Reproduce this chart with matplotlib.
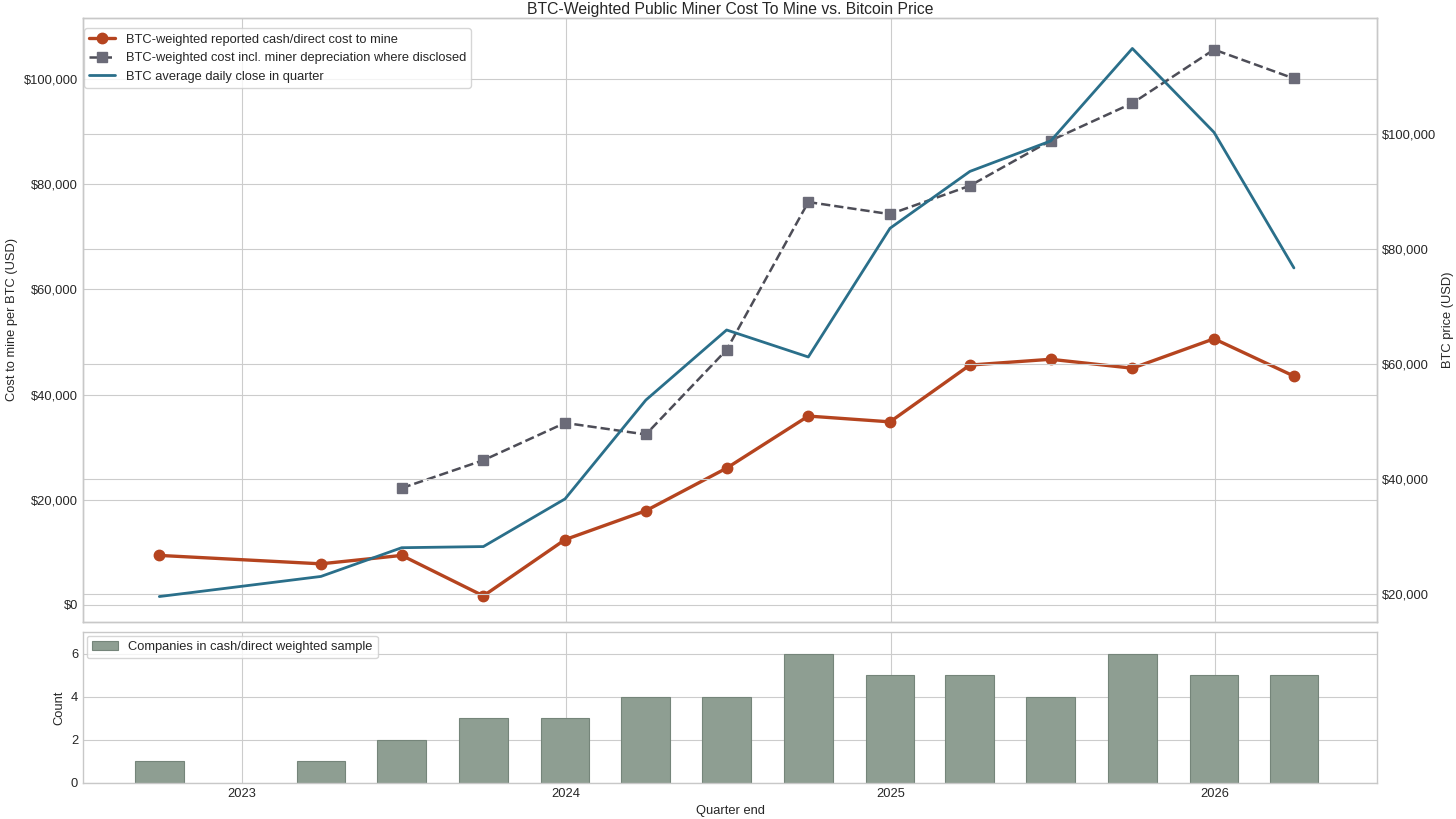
import numpy as np
import pandas as pd
import matplotlib
matplotlib.use("Agg")
import matplotlib.pyplot as plt
import matplotlib.dates as mdates
from matplotlib.ticker import FuncFormatter

plt.style.use("seaborn-v0_8-whitegrid")
plt.rcParams["font.family"] = ["Liberation Sans", "DejaVu Sans"]

quarters = ["2022-09-30", "2023-03-31", "2023-06-30", "2023-09-30", "2023-12-31",
            "2024-03-31", "2024-06-30", "2024-09-30", "2024-12-31", "2025-03-31",
            "2025-06-30", "2025-09-30", "2025-12-31", "2026-03-31"]
cash_cost = [9400, 7800, 9400, 1700, 12400, 17900, 26000, 35900, 34800, 45600,
             46700, 45000, 50600, 43500]
dep_cost = [np.nan, np.nan, 22200, 27500, 34600, 32400, 48500, 76600, 74300, 79700,
            88300, 95400, 105600, 100100]
btc_price = [19500, 23000, 28000, 28200, 36500, 53700, 65900, 61200, 83600, 93500,
             98800, 114900, 100300, 76700]
n_companies = [1, 1, 2, 3, 3, 4, 4, 6, 5, 5, 4, 6, 5, 5]

dates = pd.to_datetime(quarters)
usd = FuncFormatter(lambda v, p: f"${v:,.0f}")
fs = 9.3

fig = plt.figure(figsize=(14.56, 8.19), dpi=100)
gs = fig.add_gridspec(2, 1, height_ratios=[4, 1], hspace=0.027,
                      left=0.057, right=0.946, top=0.978, bottom=0.044)
ax = fig.add_subplot(gs[0])
axb = fig.add_subplot(gs[1], sharex=ax)
ax2 = ax.twinx()

l1, = ax.plot(dates, cash_cost, color="#b5441f", lw=2.4, marker="o", ms=7.5,
              label="BTC-weighted reported cash/direct cost to mine", zorder=3)
l2, = ax.plot(dates, dep_cost, color="#4d4d57", lw=1.8, ls="--", marker="s", ms=7,
              mfc="#6b6b78", mec="#6b6b78",
              label="BTC-weighted cost incl. miner depreciation where disclosed", zorder=3)
l3, = ax2.plot(dates, btc_price, color="#2a6f8a", lw=2.0,
               label="BTC average daily close in quarter")

ax.set_title("BTC-Weighted Public Miner Cost To Mine vs. Bitcoin Price", fontsize=11.3, pad=3)
ax.set_ylabel("Cost to mine per BTC (USD)", fontsize=fs)
ax2.set_ylabel("BTC price (USD)", fontsize=fs)
ax.yaxis.set_major_formatter(usd)
ax2.yaxis.set_major_formatter(usd)
ax.set_yticks([0, 20000, 40000, 60000, 80000, 100000])
ax2.set_yticks([20000, 40000, 60000, 80000, 100000])
ax.set_ylim(-3230, 111600)
ax2.set_ylim(15100, 120200)
ax.tick_params(labelsize=fs, labelbottom=False)
ax2.tick_params(labelsize=fs)
ax.legend(handles=[l1, l2, l3], loc="upper left", bbox_to_anchor=(0.0, 0.985),
          frameon=True, fontsize=fs, borderaxespad=0.1, handlelength=2.0)

axb.bar(dates, n_companies, width=55, color="#8e9e92", edgecolor="#75857a",
        linewidth=0.8, label="Companies in cash/direct weighted sample")
axb.set_ylim(0, 7)
axb.set_yticks([0, 2, 4, 6])
axb.set_ylabel("Count", fontsize=fs)
axb.set_xlabel("Quarter end", fontsize=fs)
axb.tick_params(labelsize=fs)
axb.legend(loc="upper left", frameon=True, fontsize=fs, borderaxespad=0.3)
axb.xaxis.set_major_locator(mdates.YearLocator())
axb.xaxis.set_major_formatter(mdates.DateFormatter("%Y"))
axb.set_xlim(pd.Timestamp("2022-07-06"), pd.Timestamp("2026-07-03"))

for a in (ax, ax2, axb):
    for s in a.spines.values():
        s.set_visible(True)
        s.set_color("#c8c8c8")

fig.savefig("out.png", dpi=100)
